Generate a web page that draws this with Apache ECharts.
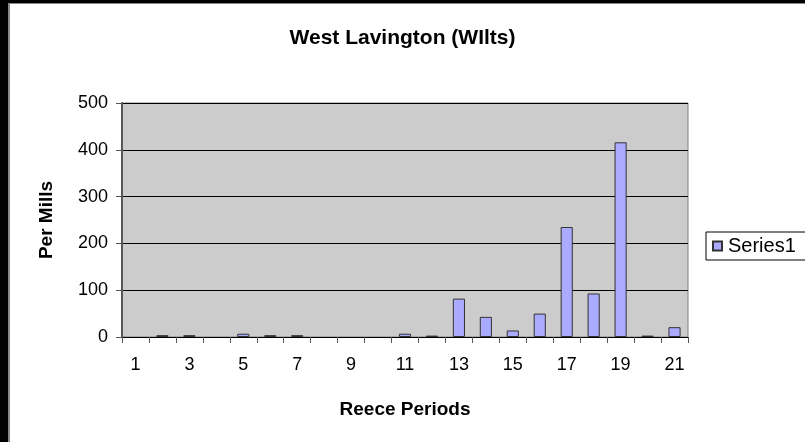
<!DOCTYPE html>
<html>
<head>
<meta charset="utf-8">
<script src="https://cdn.jsdelivr.net/npm/echarts@6/dist/echarts.min.js"></script>
<style>
  html, body { margin: 0; padding: 0; background: #fff; }
  #chart { width: 805px; height: 442px; }
</style>
</head>
<body>
<div id="chart"></div>
<script>
// periods 1..21
const periods = ['1','2','3','4','5','6','7','8','9','10','11','12','13','14','15','16','17','18','19','20','21'];
// per mills
const series1 = [0, 4, 4, 0, 7, 4, 4, 0, 0, 0, 7, 3, 82, 43, 14, 50, 235, 93, 416, 3, 21];
const yTicks = [0, 100, 200, 300, 400, 500];

const FONT = 'Liberation Sans, Arial, sans-serif';

let chart = echarts.init(document.getElementById('chart'), null, { renderer: 'canvas' });

let option = {
  animation: false,
  backgroundColor: '#fff',
  title: {
    text: 'West Lavington (WIlts)',
    left: 'center',
    top: 23,
    textStyle: { fontFamily: FONT, fontSize: 21, fontWeight: 'bold', color: '#000' }
  },
  legend: {
    data: [{ name: 'Series1', icon: 'rect' }],
    left: 706,
    top: 232,
    padding: [4, 12, 4, 6],
    itemWidth: 9,
    itemHeight: 9,
    itemGap: 4,
    borderColor: '#000',
    borderWidth: 1,
    textStyle: { fontFamily: FONT, fontSize: 20, color: '#000', padding: [0, 0, 0, 1] }
  },
  grid: {
    left: 122,
    top: 103,
    width: 566,
    height: 234,
    show: true,
    backgroundColor: '#cccccc',
    borderColor: '#808080',
    borderWidth: 1
  },
  xAxis: {
    type: 'category',
    data: periods,
    boundaryGap: true,
    name: 'Reece Periods',
    nameLocation: 'middle',
    nameGap: 63,
    nameTextStyle: { fontFamily: FONT, fontSize: 19, fontWeight: 'bold', color: '#000' },
    axisLine: { lineStyle: { color: '#000', width: 1 } },
    axisTick: { show: true, alignWithLabel: false, interval: 0, length: 6, lineStyle: { color: '#555' } },
    axisLabel: { interval: 1, fontFamily: FONT, fontSize: 18, color: '#000', margin: 19 },
    splitLine: { show: false }
  },
  yAxis: {
    type: 'value',
    min: yTicks[0],
    max: yTicks[yTicks.length - 1],
    interval: 100,
    name: 'Per Mills',
    nameLocation: 'middle',
    nameGap: 66,
    nameRotate: 90,
    nameTextStyle: { fontFamily: FONT, fontSize: 19, fontWeight: 'bold', color: '#000' },
    axisLine: { show: true, lineStyle: { color: '#555', width: 2 } },
    axisTick: { show: true, length: 6, lineStyle: { color: '#555' } },
    axisLabel: { fontFamily: FONT, fontSize: 18, color: '#000', margin: 14 },
    splitLine: { show: true, lineStyle: { color: '#000', width: 1 } }
  },
  series: [
    {
      name: 'Series1',
      type: 'bar',
      // zero periods draw no bar at all
      data: series1.map(v => (v === 0 ? '-' : v)),
      barWidth: '45%',
      itemStyle: { color: '#aaaaff', borderColor: '#333', borderWidth: 1 }
    }
  ],
  graphic: [
    { type: 'rect', left: 0, top: 0, shape: { width: 8, height: 442 }, style: { fill: '#000' } },
    { type: 'rect', left: 0, top: 0, shape: { width: 805, height: 3 }, style: { fill: '#000' } },
    { type: 'rect', left: 8, top: 3, shape: { width: 2, height: 439 }, style: { fill: '#888' } },
    { type: 'rect', left: 8, top: 3, shape: { width: 797, height: 1 }, style: { fill: '#888' } }
  ]
};

chart.setOption(option);
</script>
</body>
</html>
